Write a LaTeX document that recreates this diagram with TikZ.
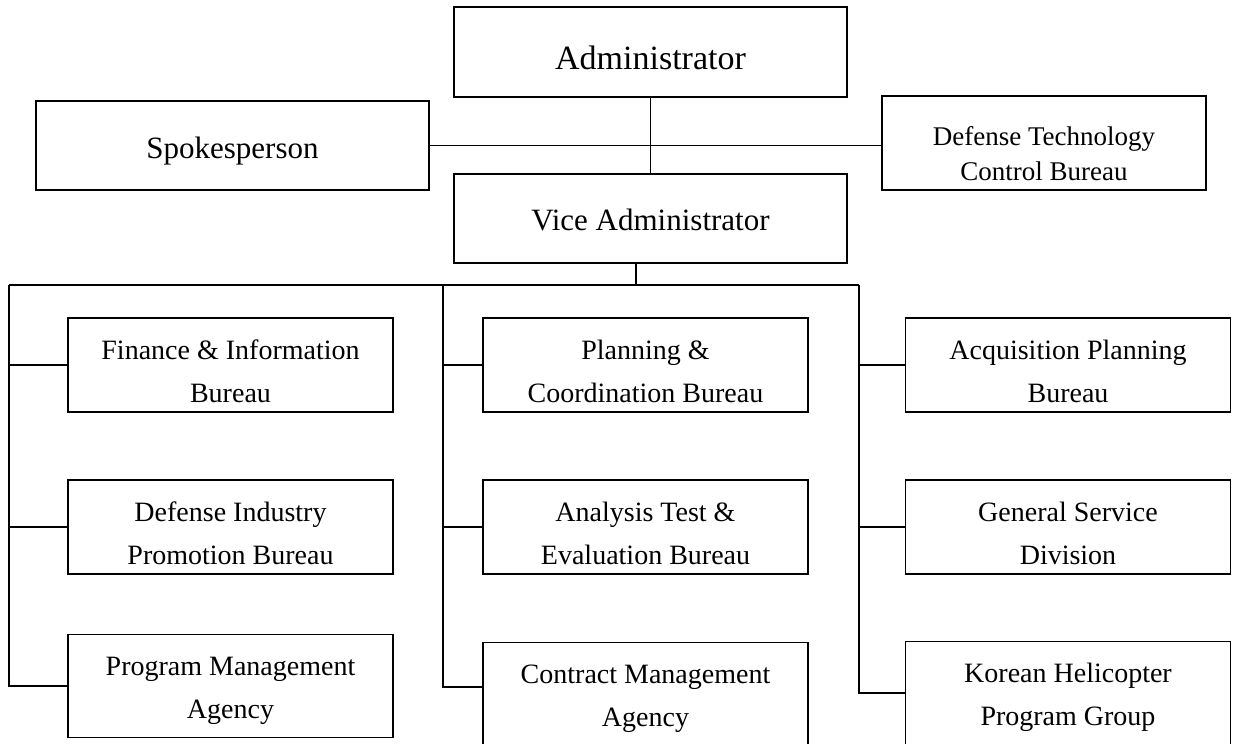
\documentclass[tikz,border=0pt]{standalone}
\usepackage{fontspec}
\setmainfont{Liberation Serif}
\usepackage{tikz}

\begin{document}
\begin{tikzpicture}[x=1pt,y=-1pt,line width=1.6pt,
	box/.style={draw,inner sep=0pt,align=center},
	headbox/.style={box,minimum width=393pt},
	bureau/.style={box,minimum width=325pt,text height=84pt,text depth=#1,font=\fontsize{28}{43}\selectfont},
	bureau/.default=10pt]
	\useasboundingbox (0,0) rectangle (1234,744);
	% top level
	\node (adm) at (650.5,52)[headbox,text height=62pt,text depth=28pt,font=\fontsize{34}{40}\selectfont]{Administrator};
	\node (vice) at (650.5,218.5)[headbox,text height=56pt,text depth=33pt,font=\fontsize{31}{37}\selectfont]{Vice Administrator};
	\node (spk) at (232.5,145.5)[headbox,text height=57pt,text depth=32pt,font=\fontsize{31}{37}\selectfont]{Spokesperson};
	\node (dtc) at (1044,143)[box,minimum width=324pt,text height=84pt,text depth=10pt,font=\fontsize{27}{35}\selectfont]{Defense Technology\\Control Bureau};
	\draw (adm) -- (vice);
	\draw (spk.east) -- (spk.east -| dtc.west);
	% bureaus
	\node (fin) at (230.5,365)[bureau]{Finance \& Information\\Bureau};
	\node (dip) at (230.5,527)[bureau]{Defense Industry\\Promotion Bureau};
	\node (pma) at (230.5,686)[bureau=19pt]{Program Management\\Agency};
	\node (pcb) at (645.5,365)[bureau]{Planning \&\\Coordination Bureau};
	\node (ate) at (645.5,527)[bureau]{Analysis Test \&\\Evaluation Bureau};
	\node (cma) at (645.5,694)[bureau=19pt]{Contract Management\\Agency};
	\node (apb) at (1068,365)[bureau]{Acquisition Planning\\Bureau};
	\node (gsd) at (1068,527)[bureau]{General Service\\Division};
	\node (khp) at (1068,693)[bureau=19pt]{Korean Helicopter\\Program Group};
	\coordinate (hub) at (636,285);
	\coordinate (c1) at (9,285);
	\coordinate (c2) at (443,285);
	\coordinate (c3) at (859,285);
	\draw (vice.south -| hub) -- (hub);
	\draw (c1) -- (c3);
	\draw (c1) |- (pma.west);
	\draw (c2) |- ([yshift=7pt]cma.west);
	\draw (c3) |- (khp.west);
	\foreach \n/\c in {fin/c1,dip/c1,pcb/c2,ate/c2,apb/c3,gsd/c3}
		\draw (\n.west) -- (\n.west -| \c);
\end{tikzpicture}
\end{document}
